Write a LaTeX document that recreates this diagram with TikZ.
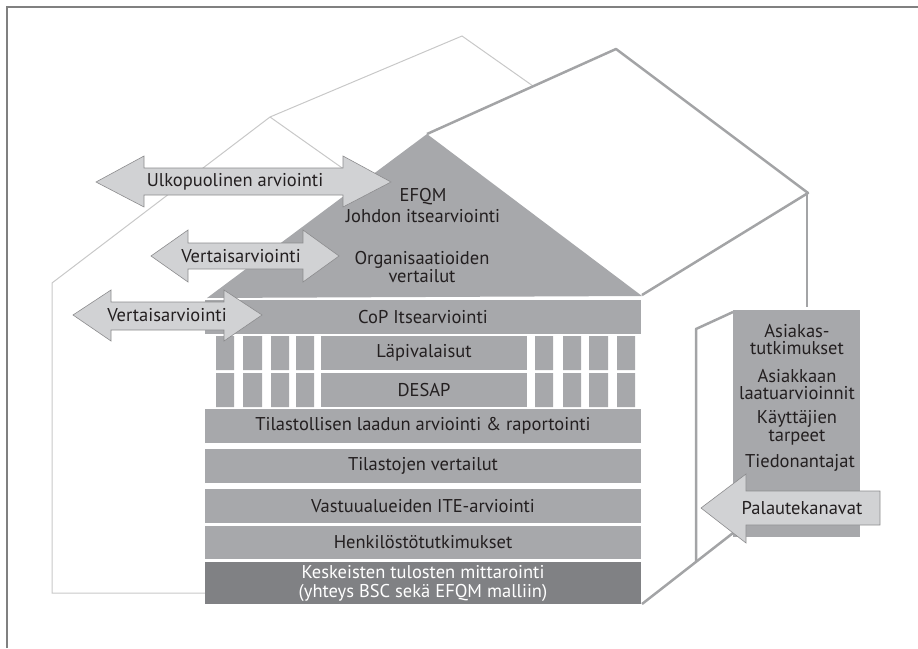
\documentclass[tikz,border=0pt]{standalone}
\usepackage{fontspec}
\setmainfont{PT Sans}
\definecolor{bargray}{RGB}{167,168,171}
\definecolor{bardark}{RGB}{128,129,132}
\definecolor{arrowgray}{RGB}{209,210,212}
\definecolor{edgegray}{RGB}{140,140,142}
\definecolor{wallgray}{RGB}{163,164,166}
\definecolor{backgray}{RGB}{200,200,200}
\definecolor{framegray}{RGB}{128,128,128}
\definecolor{inkgray}{RGB}{35,31,32}

\begin{document}
\begin{tikzpicture}[x=1pt,y=-1pt,
		every node/.style={font=\fontsize{18.5}{19}\selectfont,text=inkgray,inner sep=0pt},
		bar/.style={fill=bargray,minimum width=436pt,minimum height=34pt},
		pillar/.style={fill=bargray},
		wall/.style={draw=wallgray,line width=2.5pt,line join=round},
		backwall/.style={draw=backgray,line width=1pt},
		arrowshape/.style={fill=arrowgray,draw=edgegray,line width=0.6pt}]
				\useasboundingbox (0,0) rectangle (918,648);
				\draw[framegray,line width=1.2pt] (7,648) -- (7,7) -- (918,7);
				% back house
				\draw[backwall] (207,593) -- (52,593) -- (52,283) -- (270,117) -- (462,36) -- (533,86);
				\draw[backwall] (270,117) -- (362,182);
				% front house
				\draw[wall] (427,134) -- (616,49) -- (808,193) -- (642,295);
				\draw[wall] (807,193) -- (807,307);
				\draw[wall] (733,312) -- (696,329) -- (696,561);
				\draw[wall] (642,604) -- (733,533);
				\fill[bargray] (207,298) -- (427,134) -- (642,296) -- cycle;
				\node[align=center,font=\fontsize{18.5}{21}\selectfont] (efqm) at (423,206) {EFQM\\Johdon itsearviointi};
				\node[align=center,font=\fontsize{18.5}{18}\selectfont] (orgs) at (422,267.5) {Organisaatioiden\\vertailut};
				% layers
				\node[bar] (cop) at (423,317) {CoP Itsearviointi};
				\fill[pillar] (216,336) rectangle (234,370) (216,373) rectangle (234,407);
				\fill[pillar] (243,336) rectangle (262,370) (243,373) rectangle (262,407);
				\fill[pillar] (271,336) rectangle (289,370) (271,373) rectangle (289,407);
				\fill[pillar] (296,336) rectangle (314,370) (296,373) rectangle (314,407);
				\fill[pillar] (535,336) rectangle (553,370) (535,373) rectangle (553,407);
				\fill[pillar] (563,336) rectangle (581,370) (563,373) rectangle (581,407);
				\fill[pillar] (589,336) rectangle (608,370) (589,373) rectangle (608,407);
				\fill[pillar] (617,336) rectangle (635,370) (617,373) rectangle (635,407);
				\node[bar,minimum width=206pt] (lapi) at (424,353) {Läpivalaisut};
				\node[bar,minimum width=206pt] (desap) at (424,390) {DESAP};
				\node[bar] (tilq) at (423,426) {Tilastollisen laadun arviointi \& raportointi};
				\node[bar] (tilv) at (423,466) {Tilastojen vertailut};
				\node[bar] (ite) at (423,506) {Vastuualueiden ITE-arviointi};
				\node[bar,minimum height=33pt] (henk) at (423,542.5) {Henkilöstötutkimukset};
				\node[bar,fill=bardark,text=white,minimum height=42pt,align=center] (mitt) at (423,583) {Keskeisten tulosten mittarointi\\(yhteys BSC sekä EFQM malliin)};
				% customer side
				\fill[bargray] (733,310) rectangle (860,537);
				\node[align=center,font=\fontsize{18.5}{17}\selectfont] (asiak) at (797,340) {Asiakas-\\tutkimukset};
				\node[align=center,font=\fontsize{18.5}{17}\selectfont] (laatu) at (797,384.5) {Asiakkaan\\laatuarvioinnit};
				\node[align=center,font=\fontsize{18.5}{18}\selectfont] (kayt) at (797,428) {Käyttäjien\\tarpeet};
				\node (tied) at (800,463) {Tiedonantajat};
				% arrows
				\draw[arrowshape] (96,182) -- (144,156) -- (144,168) -- (343,168) -- (343,156) -- (391,182) -- (343,207) -- (343,195) -- (144,195) -- (144,207) -- cycle;
				\node (ulko) at (235,182) {Ulkopuolinen arviointi};
				\draw[arrowshape] (151,256) -- (188,230) -- (188,243) -- (303,243) -- (303,230) -- (339,256) -- (303,282) -- (303,269) -- (188,269) -- (188,282) -- cycle;
				\node (vert) at (241,256) {Vertaisarviointi};
				\draw[arrowshape] (73,315) -- (111,290) -- (111,302) -- (224,302) -- (224,290) -- (262,315) -- (224,341) -- (224,330) -- (111,330) -- (111,341) -- cycle;
				\node (vertcop) at (167,315) {Vertaisarviointi};
				\draw[arrowshape] (701,508) -- (746,474) -- (746,491) -- (880,491) -- (880,525) -- (746,525) -- (746,543) -- cycle;
				\node (palaute) at (802,508) {Palautekanavat};
			\end{tikzpicture}
\end{document}
